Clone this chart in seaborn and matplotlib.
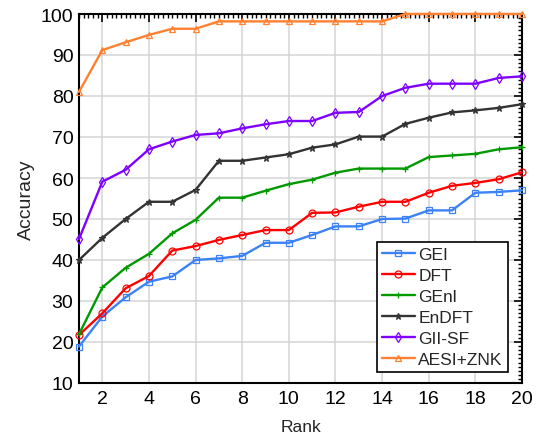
import matplotlib
matplotlib.use("Agg")
import matplotlib.pyplot as plt
import seaborn as sns
import pandas as pd
from matplotlib.ticker import MultipleLocator

rank = list(range(1, 21))
gei = [18.9, 26.2, 30.9, 34.7, 36.0, 40.0, 40.4, 41.0, 44.2, 44.2,
       46.1, 48.2, 48.2, 50.0, 50.1, 52.1, 52.1, 56.4, 56.6, 57.0]
dft = [21.7, 27.0, 33.1, 36.1, 42.3, 43.4, 44.9, 46.1, 47.3, 47.3,
       51.5, 51.6, 53.0, 54.2, 54.2, 56.4, 58.1, 58.8, 59.7, 61.4]
genl = [21.9, 33.3, 38.1, 41.5, 46.5, 49.8, 55.2, 55.2, 56.9, 58.5,
        59.6, 61.3, 62.3, 62.3, 62.3, 65.1, 65.5, 65.9, 67.0, 67.5]
endft = [40.0, 45.4, 50.0, 54.2, 54.2, 57.1, 64.2, 64.2, 65.0, 65.8,
         67.4, 68.2, 70.1, 70.1, 73.2, 74.7, 76.0, 76.5, 77.1, 78.0]
giisf = [45.1, 59.1, 62.0, 67.0, 68.9, 70.5, 70.9, 72.1, 73.1, 73.9,
         73.9, 75.9, 76.1, 80.0, 82.0, 83.0, 83.0, 83.0, 84.4, 84.8]
aesi = [81.0, 91.2, 93.1, 94.9, 96.4, 96.4, 98.2, 98.2, 98.2, 98.2,
        98.2, 98.2, 98.2, 98.2, 100.0, 100.0, 100.0, 100.0, 100.0, 100.0]

names = ["GEI", "DFT", "GEnl", "EnDFT", "GII-SF", "AESI+ZNK"]
series = [gei, dft, genl, endft, giisf, aesi]
colors = ["#3b82f6", "#ff0000", "#009900", "#333333", "#7f00ff", "#ff8030"]
markers = ["s", "o", "+", "*", "d", "^"]

sns.set_style("white")
plt.rcParams["font.family"] = ["Liberation Sans", "DejaVu Sans"]

fig = plt.figure(figsize=(5.41, 4.39), dpi=100)
ax = fig.add_axes([79 / 541, 1 - 384 / 439, (522 - 79) / 541, (384 - 15) / 439])

for name, vals, c, m in zip(names, series, colors, markers):
    df = pd.DataFrame({"Rank": rank, "Accuracy": vals})
    sns.lineplot(data=df, x="Rank", y="Accuracy", ax=ax, color=c, marker=m,
                 markersize=5, markerfacecolor="none", markeredgecolor=c,
                 markeredgewidth=0.9, linewidth=1.7, label=name, clip_on=False,
                 zorder=3)

ax.set_xlim(1, 20)
ax.set_ylim(10, 100)
ax.xaxis.set_major_locator(MultipleLocator(2))
ax.xaxis.set_minor_locator(MultipleLocator(0.2))
ax.yaxis.set_major_locator(MultipleLocator(10))
ax.yaxis.set_minor_locator(MultipleLocator(1))
ax.grid(True, which="major", color="#d4d4d4", linewidth=1.1)
ax.set_axisbelow(True)
ax.tick_params(which="both", direction="in", top=True, right=True,
               labelsize=14, color="black", labelcolor="black")
ax.tick_params(axis="x", which="major", pad=5)
ax.tick_params(axis="y", which="major", pad=4)
ax.tick_params(which="major", length=6, width=1.2)
ax.tick_params(which="minor", length=3, width=1)
for s in ax.spines.values():
    s.set_color("black")
    s.set_linewidth(1.5)
ax.set_xlabel("Rank", fontsize=12.5)
ax.set_ylabel("Accuracy", fontsize=14)
ax.xaxis.set_label_coords(0.5, -0.098)
ax.yaxis.set_label_coords(-0.10, 0.5)

leg = ax.legend(loc="lower right", fontsize=12.5, frameon=True, fancybox=False,
                edgecolor="black", framealpha=1, borderaxespad=0,
                bbox_to_anchor=((508 - 79) / 443, (384 - 373) / 369),
                handlelength=1.9, handletextpad=0.2, labelspacing=0.33,
                borderpad=0.3)
leg.get_frame().set_linewidth(1.2)

fig.savefig("out.png", dpi=100)
